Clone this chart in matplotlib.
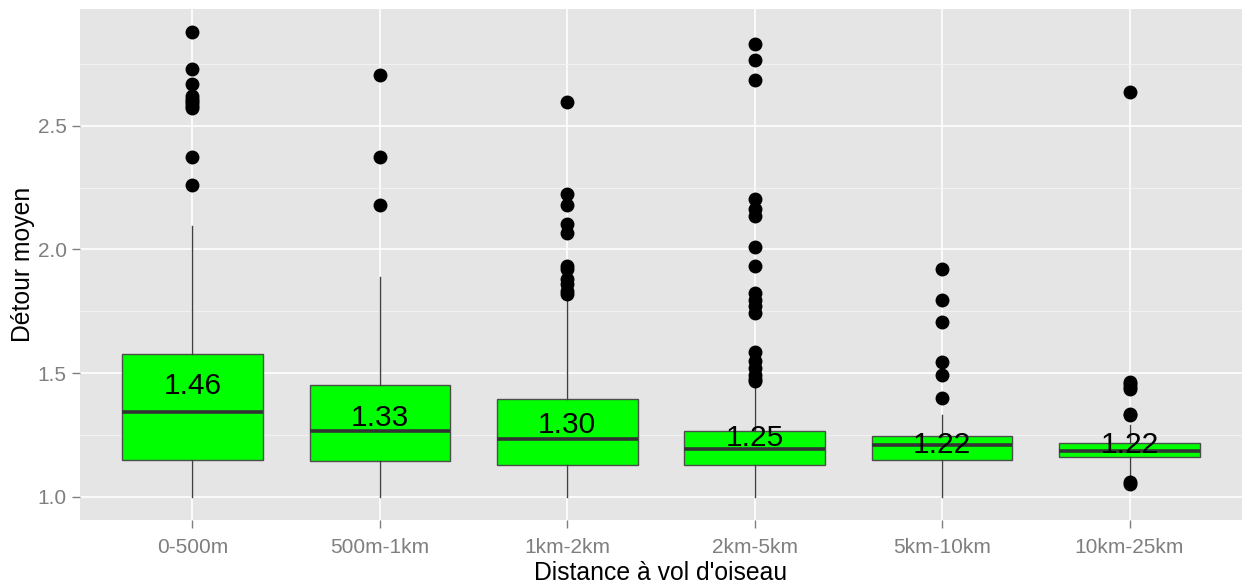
import matplotlib
matplotlib.use("Agg")
import matplotlib.pyplot as plt
from matplotlib.ticker import MultipleLocator

plt.rcParams['font.family'] = ['Liberation Sans', 'DejaVu Sans']

categories = ['0-500m', '500m-1km', '1km-2km', '2km-5km', '5km-10km', '10km-25km']
q1 = [1.150, 1.145, 1.129, 1.129, 1.148, 1.160]
median = [1.343, 1.265, 1.233, 1.194, 1.210, 1.186]
q3 = [1.578, 1.452, 1.397, 1.266, 1.246, 1.216]
whislo = [1.0, 1.0, 1.0, 1.0, 1.0, 1.08]
whishi = [2.093, 1.890, 1.800, 1.450, 1.332, 1.29]
means = [1.46, 1.33, 1.30, 1.25, 1.22, 1.22]
fliers_0 = [2.878, 2.728, 2.667, 2.622, 2.61, 2.60, 2.59, 2.58, 2.573, 2.372, 2.262]
fliers_1 = [2.705, 2.372, 2.18]
fliers_2 = [2.597, 2.225, 2.178, 2.103, 2.067, 1.934, 1.92, 1.88, 1.86, 1.83, 1.82]
fliers_3 = [2.831, 2.766, 2.685, 2.203, 2.162, 2.135, 2.011, 1.932, 1.824, 1.797,
            1.77, 1.743, 1.584, 1.547, 1.520, 1.493, 1.475, 1.466]
fliers_4 = [1.921, 1.795, 1.708, 1.546, 1.494, 1.40]
fliers_5 = [2.638, 1.465, 1.455, 1.445, 1.435, 1.336, 1.33, 1.06, 1.05]
fliers = [fliers_0, fliers_1, fliers_2, fliers_3, fliers_4, fliers_5]

fig = plt.figure(figsize=(12.44, 5.88), dpi=100)
ax = fig.add_axes([80/1244, 68/588, 1162/1244, 511/588])
ax.set_facecolor('#E5E5E5')

stats = []
for i, c in enumerate(categories):
    stats.append(dict(label=c, q1=q1[i], med=median[i], q3=q3[i],
                      whislo=whislo[i], whishi=whishi[i], fliers=fliers[i]))

positions = list(range(1, len(categories) + 1))
ax.bxp(stats, positions=positions, widths=0.75, patch_artist=True,
       showcaps=False, showfliers=True,
       boxprops=dict(facecolor='#00FF00', edgecolor='#4D4D4D', linewidth=1.0),
       medianprops=dict(color='#333333', linewidth=2.6),
       whiskerprops=dict(color='#404040', linewidth=1.0),
       flierprops=dict(marker='o', markerfacecolor='black', markeredgecolor='black',
                       markersize=9, linestyle='none'),
       zorder=3)

for i, m in enumerate(means):
    ax.annotate(f'{m:.2f}', xy=(positions[i], m), xytext=(0, -2),
                textcoords='offset points', ha='center', va='center',
                fontsize=21.5, color='black', zorder=5)

ax.set_xlim(0.4, 6.6)
ax.set_ylim(0.906, 2.972)
ax.yaxis.set_major_locator(MultipleLocator(0.5))
ax.yaxis.set_minor_locator(MultipleLocator(0.25))
ax.set_xticks(positions)
ax.set_xticklabels(categories)
ax.set_yticks([1.0, 1.5, 2.0, 2.5])
ax.set_yticklabels(['1.0', '1.5', '2.0', '2.5'])

ax.grid(True, which='major', color='white', linewidth=1.2, zorder=0)
ax.grid(True, which='minor', axis='y', color='#F2F2F2', linewidth=0.7, zorder=0)
ax.set_axisbelow(True)
for s in ax.spines.values():
    s.set_visible(False)

ax.tick_params(axis='both', which='major', colors='#7F7F7F', labelcolor='#7F7F7F',
               labelsize=15, length=6, width=1)
ax.tick_params(axis='y', which='minor', length=0)
ax.tick_params(axis='x', pad=7)

ax.set_xlabel("Distance à vol d'oiseau", fontsize=17.8, color='black', labelpad=3)
ax.set_ylabel('Détour moyen', fontsize=17.8, color='black', labelpad=2)

fig.savefig('out.png', dpi=100)
